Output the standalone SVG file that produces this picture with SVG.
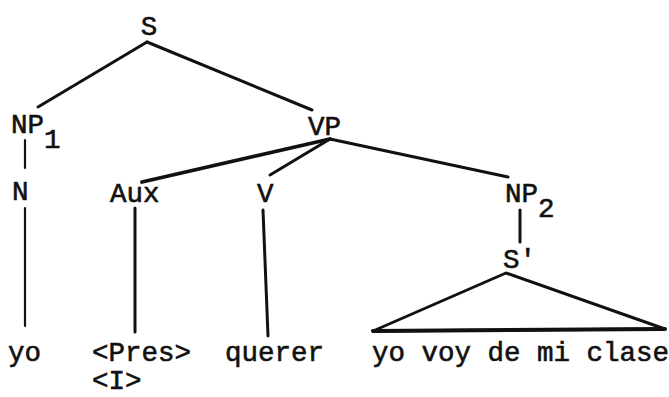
<svg xmlns="http://www.w3.org/2000/svg" width="669" height="397" viewBox="0 0 669 397">
<style>
text{font-family:"Liberation Mono","Courier New",monospace;font-size:27.5px;fill:#111;stroke:#111;stroke-width:0.6}
.e{stroke:#111;stroke-width:3;stroke-linecap:round;fill:none}
.t{stroke-width:2.2}
</style>
<rect width="669" height="397" fill="#fff"/>
<g id="connectors">
<line class="e" x1="147" y1="42" x2="38" y2="107"/>
<line class="e" x1="147" y1="42" x2="312" y2="110"/>
<line class="e t" x1="25" y1="140" x2="25" y2="168"/>
<line class="e" style="stroke-width:3.8" x1="330" y1="139" x2="142" y2="182"/>
<line class="e" x1="330" y1="139" x2="270" y2="175"/>
<line class="e" x1="330" y1="139" x2="508" y2="177"/>
<line class="e t" x1="25" y1="208" x2="25" y2="326"/>
<line class="e" x1="135" y1="208" x2="135" y2="332"/>
<line class="e" x1="263" y1="210" x2="268" y2="336"/>
<line class="e" x1="520" y1="210" x2="520" y2="242"/>
<path class="e" stroke-linejoin="round" d="M506 273 L373 331 L665 329 Z"/>
<line class="e" style="stroke-width:4" x1="373" y1="331" x2="665" y2="329"/>
</g>
<g id="S"><text x="149" y="35" text-anchor="middle">S</text></g>
<g id="NP1"><text x="11" y="133">NP</text><text x="44" y="148">1</text></g>
<g id="VP"><text x="308" y="135">VP</text></g>
<g id="N"><text x="12" y="200">N</text></g>
<g id="Aux"><text x="110" y="202">Aux</text></g>
<g id="V"><text x="257" y="202">V</text></g>
<g id="NP2"><text x="505" y="202">NP</text><text x="538" y="217">2</text></g>
<g id="Sprime"><text x="503" y="268">S'</text></g>
<g id="yo"><text x="8" y="361">yo</text></g>
<g id="Pres"><text x="92" y="361">&lt;Pres&gt;</text><text x="92" y="389">&lt;I&gt;</text></g>
<g id="querer"><text x="225" y="361">querer</text></g>
<g id="clause"><text x="372" y="361">yo voy de mi clase</text></g>
</svg>
